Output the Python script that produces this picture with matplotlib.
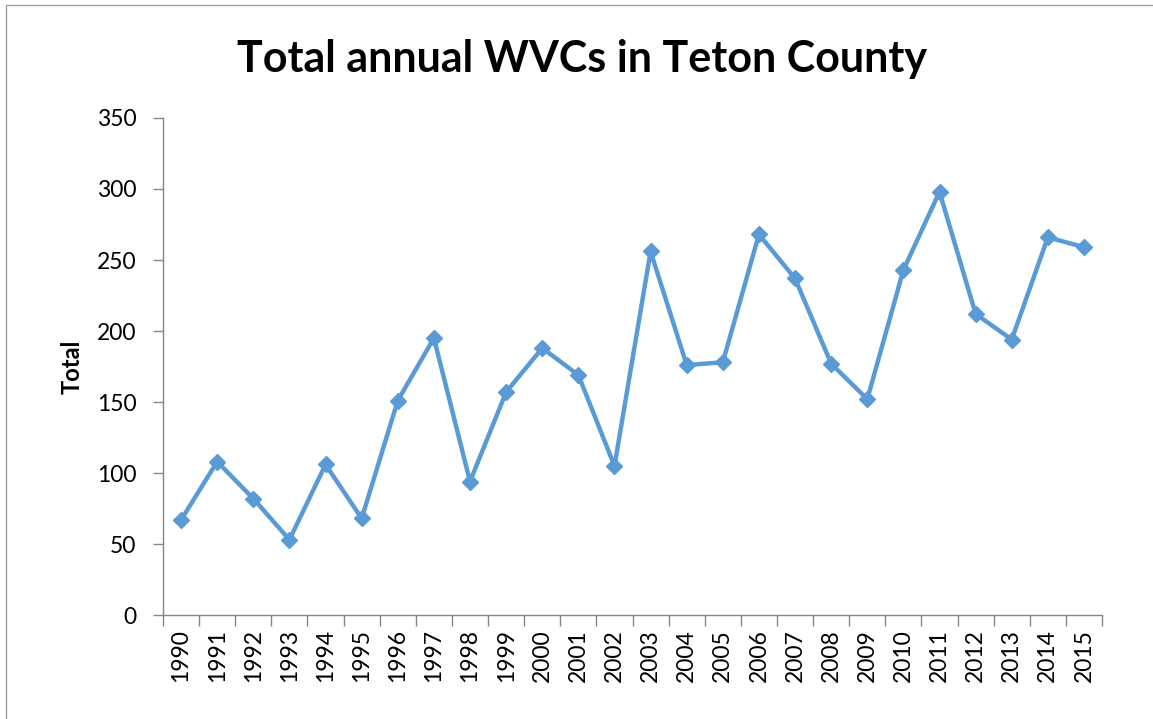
import matplotlib
matplotlib.use("Agg")
import matplotlib.pyplot as plt
import matplotlib.patches as patches
import numpy as np

plt.rcParams['font.family'] = ['Lato', 'DejaVu Sans']

years = [str(y) for y in range(1990, 2016)]
totals = [67, 108, 82, 53, 106, 68, 151, 195, 94, 157, 188, 169, 105,
          256, 176, 178, 268, 237, 177, 152, 243, 298, 212, 194, 266, 259]

blue = '#5B9BD5'
axis_grey = '#868686'

fig = plt.figure(figsize=(11.53, 7.19), dpi=100)
ax = fig.add_axes([0.1414, 0.1446, 0.8144, 0.6913])

x = np.arange(len(years))
ax.plot(x, totals, color=blue, lw=3.2, marker='D', markersize=8.5,
        markerfacecolor=blue, markeredgecolor=blue)

ax.set_xlim(-0.5, len(years) - 0.5)
ax.set_ylim(0, 350)
ax.set_yticks(range(0, 351, 50))

# boundary ticks on the x axis, labels at category centres
ax.set_xticks(np.arange(-0.5, len(years), 1))
ax.set_xticklabels([])
ax.set_xticks(x, minor=True)
ax.set_xticklabels(years, minor=True, rotation=90, fontsize=16.5)
ax.tick_params(axis='x', which='major', length=8, width=1, color=axis_grey, direction='out')
ax.tick_params(axis='x', which='minor', length=0, pad=10)
ax.tick_params(axis='y', length=7, width=1, color=axis_grey, labelsize=16.5, pad=12)

for side in ['top', 'right']:
    ax.spines[side].set_visible(False)
for side in ['left', 'bottom']:
    ax.spines[side].set_color(axis_grey)
    ax.spines[side].set_linewidth(1)

ax.set_ylabel('Total', fontsize=17, fontweight='bold', labelpad=10)
fig.text(0.505, 0.918, 'Total annual WVCs in Teton County', ha='center', va='center',
         fontsize=31, fontweight='bold')

# outer chart border (only left and top edges fall inside the image)
fig.patches.append(patches.Rectangle((0.005, -0.05), 1.1, 1.043, transform=fig.transFigure,
                                     fill=False, edgecolor='#A0A0A0', lw=1))

fig.savefig('out.png', dpi=100)
